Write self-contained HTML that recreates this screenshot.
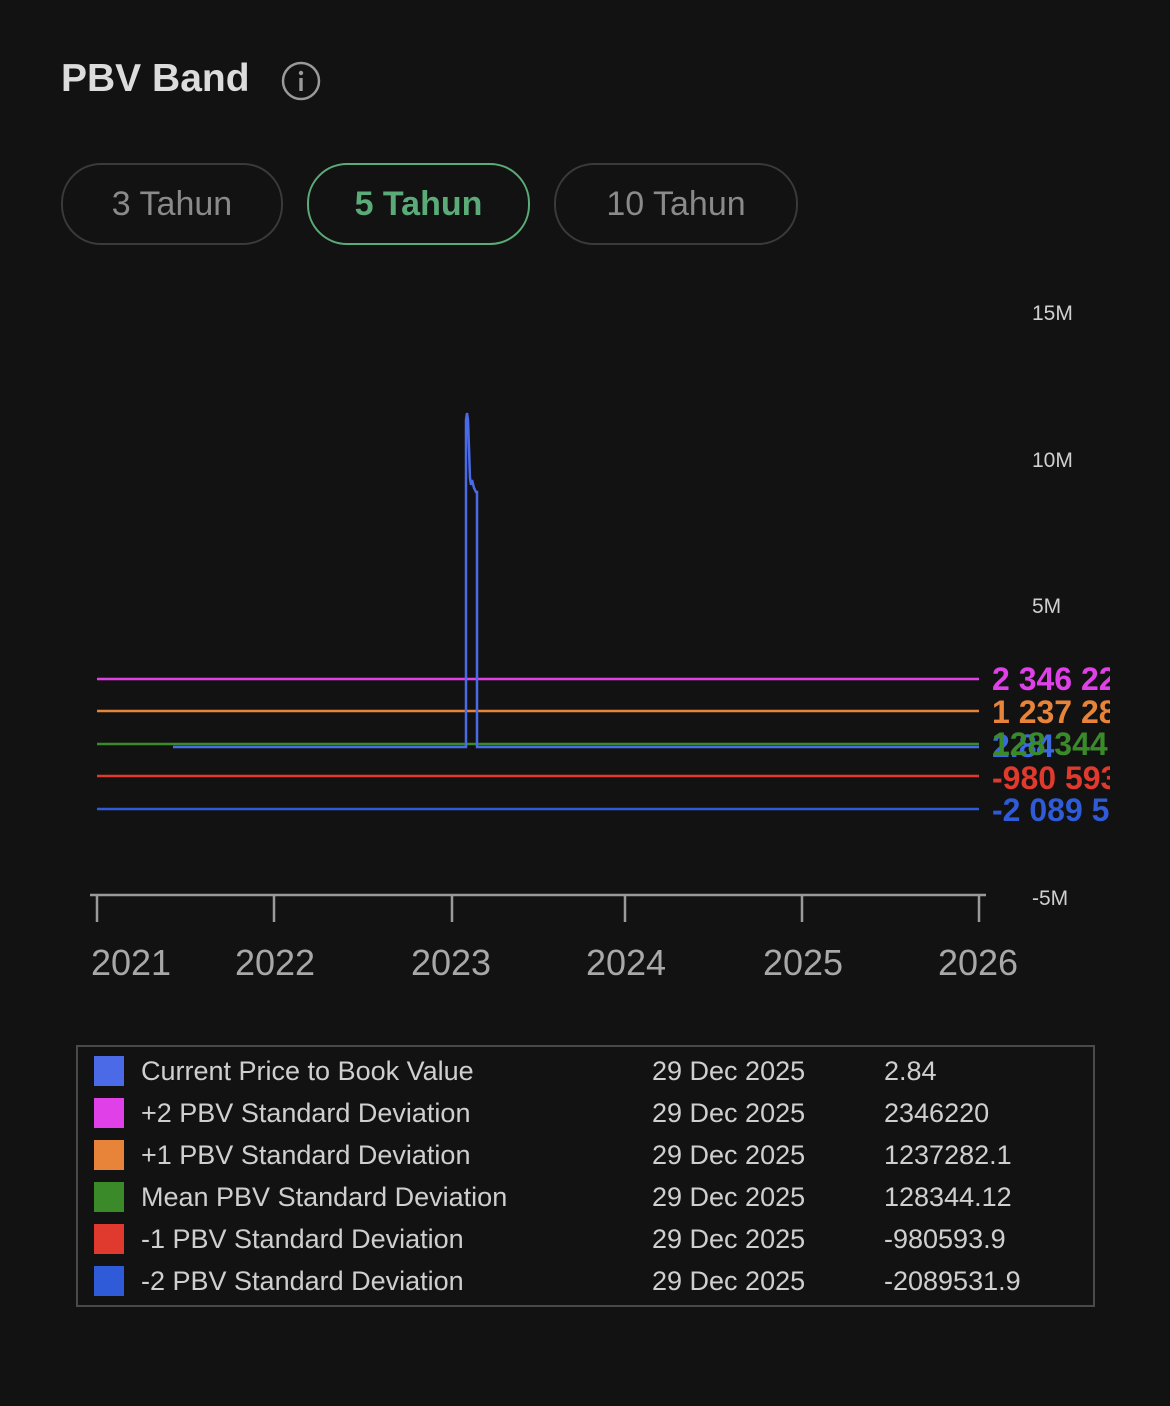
<!DOCTYPE html>
<html><head><meta charset="utf-8"><style>
html,body{margin:0;padding:0;background:#121212;width:1170px;height:1406px;overflow:hidden;font-family:"Liberation Sans",sans-serif}
.t{position:absolute;white-space:nowrap}
.btn{position:absolute;top:163px;height:78px;border:2px solid #3a3a3a;border-radius:40px;color:#8a8a8a;font-size:34px;text-align:center;line-height:78px}
.r{position:relative;height:42px}
.r span.x{position:absolute;top:-5px}
.r span.s{position:absolute;left:0;top:1px;width:30px;height:30px}
</style></head><body>
<div class="t" style="left:61px;top:57px;font-size:39px;font-weight:bold;color:#dcdcdc">PBV Band</div>
<svg class="t" style="left:280px;top:60px" width="44" height="44"><circle cx="21" cy="21" r="18" fill="none" stroke="#9a9a9a" stroke-width="2.5"/><circle cx="21" cy="13" r="2.2" fill="#9a9a9a"/><rect x="19.3" y="18" width="3.4" height="13" fill="#9a9a9a"/></svg>
<div class="btn" style="left:61px;width:218px">3 Tahun</div>
<div class="btn" style="left:307px;width:219px;border-color:#5aab78;color:#5aab78;font-weight:bold">5 Tahun</div>
<div class="btn" style="left:554px;width:240px">10 Tahun</div>
<svg class="t" style="left:0;top:0" width="1170" height="1040">
<g font-family="Liberation Sans" font-size="21" fill="#cfcfcf">
<text x="1032" y="320">15M</text><text x="1032" y="467">10M</text><text x="1032" y="613">5M</text><text x="1032" y="905">-5M</text>
</g>
<g stroke-width="2.5">
<line x1="97" x2="979" y1="679" y2="679" stroke="#e040e8"/>
<line x1="97" x2="979" y1="711" y2="711" stroke="#e8843a"/>
<line x1="97" x2="979" y1="744" y2="744" stroke="#3a8a2a"/>
<line x1="97" x2="979" y1="776" y2="776" stroke="#e03a2e"/>
<line x1="97" x2="979" y1="809" y2="809" stroke="#2f5ad8"/>
</g>
<polyline fill="none" stroke="#4a6ae8" stroke-width="2.5" points="173,747 466,747 466,420 467,413 468,420 470,478 471,485 472,480 474,488 476,492 477,492 477,747 979,747"/>
<g font-family="Liberation Sans" font-size="32" font-weight="bold">
<text x="992" y="690" fill="#e040e8">2 346 220</text>
<text x="992" y="723" fill="#e8843a">1 237 282</text>
<text x="992" y="757" fill="#3a6ae0">2.84</text>
<text x="992" y="755" fill="#3a8a2a">128 344</text>
<text x="992" y="789" fill="#e03a2e">-980 593</text>
<text x="992" y="821" fill="#2f5ad8">-2 089 531</text>
</g>
<rect x="1110" y="640" width="60" height="200" fill="#121212"/>
<line x1="90" x2="986" y1="895" y2="895" stroke="#9a9a9a" stroke-width="2.5"/>
<g stroke="#9a9a9a" stroke-width="2.5">
<line x1="97" x2="97" y1="895" y2="922"/><line x1="274" x2="274" y1="895" y2="922"/><line x1="452" x2="452" y1="895" y2="922"/><line x1="625" x2="625" y1="895" y2="922"/><line x1="802" x2="802" y1="895" y2="922"/><line x1="979" x2="979" y1="895" y2="922"/>
</g>
<g font-family="Liberation Sans" font-size="36" fill="#a8a8a8" text-anchor="middle">
<text x="131" y="975">2021</text><text x="275" y="975">2022</text><text x="451" y="975">2023</text><text x="626" y="975">2024</text><text x="803" y="975">2025</text><text x="978" y="975">2026</text>
</g>
</svg>
<div class="t" style="left:76px;top:1045px;width:1015px;height:258px;border:2px solid #4a4a4a"></div>
<div class="t" style="left:94px;top:1055px;font-size:27px;color:#cfcfcf;line-height:42px">
<div class="r"><span class="s" style="background:#4a6ae8"></span><span class="x" style="left:47px">Current Price to Book Value</span><span class="x" style="left:558px">29 Dec 2025</span><span class="x" style="left:790px">2.84</span></div>
<div class="r"><span class="s" style="background:#e040e8"></span><span class="x" style="left:47px">+2 PBV Standard Deviation</span><span class="x" style="left:558px">29 Dec 2025</span><span class="x" style="left:790px">2346220</span></div>
<div class="r"><span class="s" style="background:#e8843a"></span><span class="x" style="left:47px">+1 PBV Standard Deviation</span><span class="x" style="left:558px">29 Dec 2025</span><span class="x" style="left:790px">1237282.1</span></div>
<div class="r"><span class="s" style="background:#3a8a2a"></span><span class="x" style="left:47px">Mean PBV Standard Deviation</span><span class="x" style="left:558px">29 Dec 2025</span><span class="x" style="left:790px">128344.12</span></div>
<div class="r"><span class="s" style="background:#e03a2e"></span><span class="x" style="left:47px">-1 PBV Standard Deviation</span><span class="x" style="left:558px">29 Dec 2025</span><span class="x" style="left:790px">-980593.9</span></div>
<div class="r"><span class="s" style="background:#2f5ad8"></span><span class="x" style="left:47px">-2 PBV Standard Deviation</span><span class="x" style="left:558px">29 Dec 2025</span><span class="x" style="left:790px">-2089531.9</span></div>
</div>
</body></html>
